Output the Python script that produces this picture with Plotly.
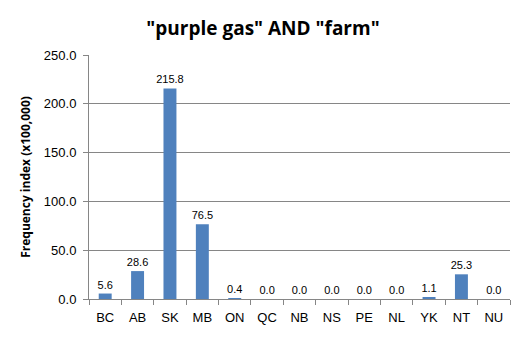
import plotly.graph_objects as go

categories = ["BC", "AB", "SK", "MB", "ON", "QC", "NB", "NS", "PE", "NL", "YK", "NT", "NU"]
values = [5.6, 28.6, 215.8, 76.5, 0.4, 0.0, 0.0, 0.0, 0.0, 0.0, 1.1, 25.3, 0.0]
y_ticks = [0, 50, 100, 150, 200, 250]

fig = go.Figure()
fig.add_trace(go.Bar(
    x=categories, y=values,
    marker=dict(color="#4F81BD", line=dict(width=0)),
    width=0.4,
    text=[f"{v:.1f}" for v in values],
    textposition="outside",
    constraintext="none",
    cliponaxis=False,
    textfont=dict(family="Liberation Sans, Arial", size=11, color="#000000"),
))
fig.update_layout(
    width=526, height=337,
    margin=dict(l=89, r=16, t=55, b=38),
    paper_bgcolor="white", plot_bgcolor="white",
    showlegend=False,
    title=dict(text='<b>"purple gas" AND "farm"</b>', x=0.5, xanchor="center",
               y=0.915, yanchor="middle",
               font=dict(family="Open Sans, Liberation Sans", size=19, color="#000000")),
    font=dict(family="Liberation Sans, Arial", size=13, color="#000000"),
)
fig.update_xaxes(
    showline=True, linecolor="#868686", linewidth=1,
    ticks="outside", tickson="boundaries", ticklen=5, tickcolor="#868686",
    tickfont=dict(size=13), showgrid=False, ticklabelstandoff=6,
)
fig.update_yaxes(
    range=[0, 250], tickvals=y_ticks, ticktext=[f"{v:.1f}" for v in y_ticks],
    showline=True, linecolor="#868686", linewidth=1,
    ticks="outside", ticklen=5, tickcolor="#868686",
    showgrid=True, gridcolor="#868686", gridwidth=1,
    tickfont=dict(size=13), ticklabelstandoff=4,
    title=dict(text="<b>Frequency index (x100,000)</b>", standoff=10,
               font=dict(family="Open Sans, Liberation Sans", size=12)),
)
fig.write_html("out.html")
